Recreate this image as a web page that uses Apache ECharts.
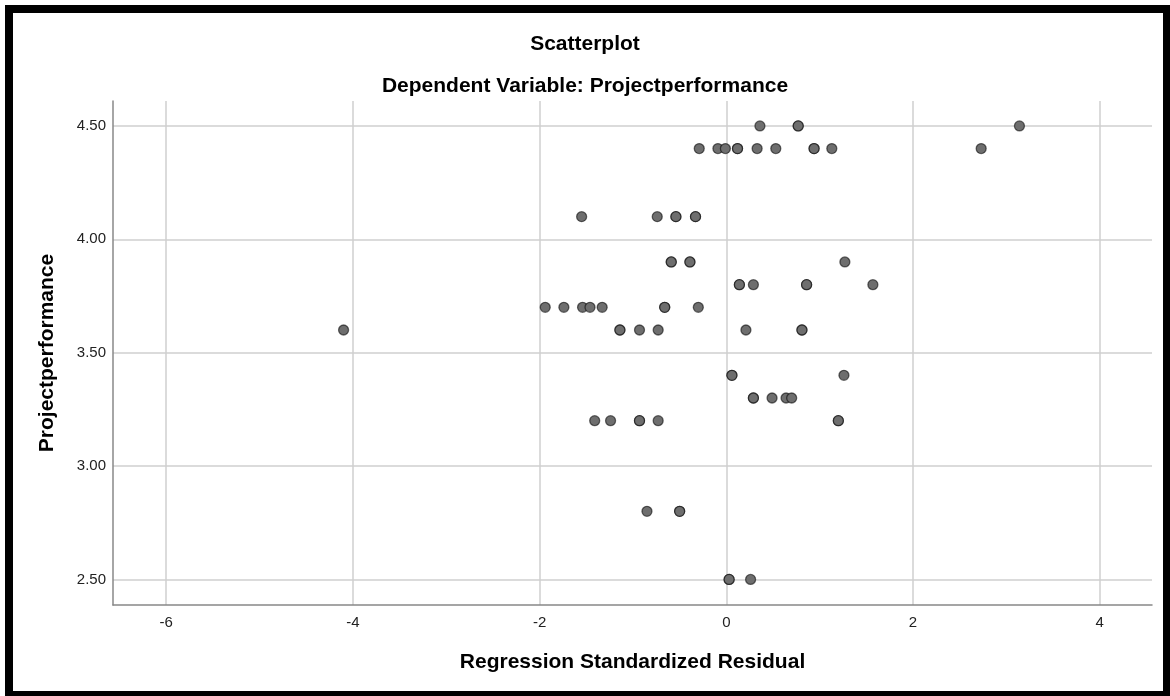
<!DOCTYPE html>
<html>
<head>
<meta charset="utf-8">
<script src="https://cdn.jsdelivr.net/npm/echarts@6/dist/echarts.min.js"></script>
<style>
    body { margin: 0; background: #fff; }
    #chart { position: absolute; left: 0; top: 0; width: 1170px; height: 696px; }
    #frame {
        position: absolute; left: 5px; top: 5px; width: 1166px; height: 694px;
        box-sizing: border-box; border: 8px solid #000; pointer-events: none;
    }
</style>
</head>
<body>
<div id="chart"></div>
<div id="frame"></div>
<script>
// residual values, grouped by their Projectperformance value
// (repeated entries are cases that sit on top of each other)
var resid = [
    0.36, 0.77, 0.77, 3.14,
    -0.29, -0.09, -0.01, 0.12, 0.12, 0.33, 0.53, 0.94, 0.94, 1.13, 2.73,
    -1.55, -0.74, -0.54, -0.54, -0.33, -0.33,
    -0.59, -0.59, -0.39, -0.39, 1.27,
    0.14, 0.14, 0.29, 0.86, 0.86, 1.57,
    -1.94, -1.74, -1.54, -1.46, -1.33, -0.66, -0.66, -0.30,
    -4.10, -1.14, -1.14, -0.93, -0.73, 0.21, 0.81, 0.81,
    0.06, 0.06, 1.26,
    0.29, 0.29, 0.49, 0.64, 0.70,
    -1.41, -1.24, -0.93, -0.93, -0.73, 1.20, 1.20,
    -0.85, -0.50, -0.50,
    0.03, 0.03, 0.26
];
var perf = [
    4.5, 4.5, 4.5, 4.5,
    4.4, 4.4, 4.4, 4.4, 4.4, 4.4, 4.4, 4.4, 4.4, 4.4, 4.4,
    4.1, 4.1, 4.1, 4.1, 4.1, 4.1,
    3.9, 3.9, 3.9, 3.9, 3.9,
    3.8, 3.8, 3.8, 3.8, 3.8, 3.8,
    3.7, 3.7, 3.7, 3.7, 3.7, 3.7, 3.7, 3.7,
    3.6, 3.6, 3.6, 3.6, 3.6, 3.6, 3.6, 3.6,
    3.4, 3.4, 3.4,
    3.3, 3.3, 3.3, 3.3, 3.3,
    3.2, 3.2, 3.2, 3.2, 3.2, 3.2, 3.2,
    2.8, 2.8, 2.8,
    2.5, 2.5, 2.5
];
var xTicks = [-6, -4, -2, 0, 2, 4];
var yTicks = [2.5, 3.0, 3.5, 4.0, 4.5];

var myChart = echarts.init(document.getElementById('chart'));

var points = [];
for (var i = 0; i < resid.length; i++) {
    points.push([resid[i], perf[i]]);
}

var font = 'Arial, "Liberation Sans", sans-serif';

var option = {
    backgroundColor: '#fff',
    animation: false,
    title: [
        {
            text: 'Scatterplot',
            left: 'center', top: 34, padding: [0, 0, 0, 6],
            textStyle: { fontFamily: font, fontSize: 21, fontWeight: 'bold', color: '#000' }
        },
        {
            text: 'Dependent Variable: Projectperformance',
            left: 'center', top: 76, padding: [0, 0, 0, 5],
            textStyle: { fontFamily: font, fontSize: 21, fontWeight: 'bold', color: '#000' }
        }
    ],
    grid: { left: 113, right: 18, top: 101, bottom: 91 },
    xAxis: {
        type: 'value',
        min: -6.57,
        max: 4.56,
        name: 'Regression Standardized Residual',
        nameLocation: 'middle',
        nameGap: 47,
        nameTextStyle: { fontFamily: font, fontSize: 21, fontWeight: 'bold', color: '#000' },
        axisLine: { show: true, onZero: false, lineStyle: { color: '#888', width: 1.5 } },
        axisTick: { show: false, customValues: xTicks },
        axisLabel: {
            customValues: xTicks, margin: 10,
            fontFamily: font, fontSize: 15, color: '#222'
        },
        splitLine: { show: true, lineStyle: { color: '#cfcfcf', width: 1.5 } }
    },
    yAxis: {
        type: 'value',
        min: 2.387,
        max: 4.61,
        name: 'Projectperformance',
        nameLocation: 'middle',
        nameGap: 55,
        nameTextStyle: { fontFamily: font, fontSize: 21, fontWeight: 'bold', color: '#000' },
        axisLine: { show: true, onZero: false, lineStyle: { color: '#888', width: 1.5 } },
        axisTick: { show: false, customValues: yTicks },
        axisLabel: {
            customValues: yTicks, margin: 7,
            fontFamily: font, fontSize: 15, color: '#222',
            formatter: function (v) { return v.toFixed(2); }
        },
        splitLine: { show: true, lineStyle: { color: '#cfcfcf', width: 1.5 } }
    },
    series: [
        {
            type: 'scatter',
            symbolSize: 10,
            itemStyle: {
                color: '#6e6e6e',
                borderColor: 'rgba(0,0,0,0.55)',
                borderWidth: 1.3,
                opacity: 1
            },
            data: points
        }
    ]
};
myChart.setOption(option);

window.onresize = function () {
    myChart.resize();
};
</script>
</body>
</html>
